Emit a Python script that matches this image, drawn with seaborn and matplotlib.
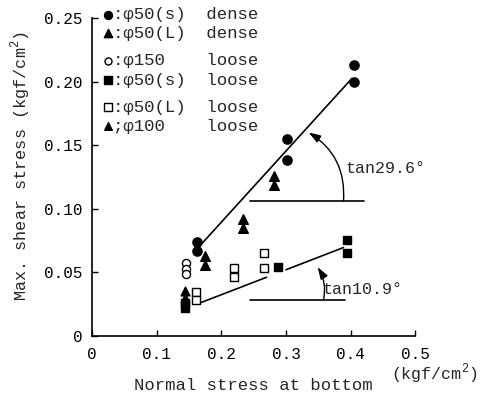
import numpy as np
import pandas as pd
import matplotlib
matplotlib.use("Agg")
import matplotlib.pyplot as plt
import seaborn as sns

# ---- data ----
dense_s_x = [0.162, 0.162, 0.301, 0.301, 0.406, 0.406]
dense_s_y = [0.074, 0.067, 0.1545, 0.138, 0.213, 0.200]

dense_L_x = [0.175, 0.175, 0.233, 0.233, 0.281, 0.281]
dense_L_y = [0.063, 0.0555, 0.0915, 0.0844, 0.1256, 0.1183]

loose_150_x = [0.146, 0.146, 0.146]
loose_150_y = [0.0571, 0.0528, 0.0484]

loose_s_x = [0.143, 0.143, 0.288, 0.395, 0.395]
loose_s_y = [0.026, 0.022, 0.0542, 0.0752, 0.0652]

loose_L_x = [0.160, 0.160, 0.220, 0.220, 0.266, 0.266]
loose_L_y = [0.034, 0.028, 0.0534, 0.0463, 0.0652, 0.0529]

loose_100_x = [0.143, 0.143]
loose_100_y = [0.035, 0.030]

dense_fit_x = [0.170, 0.402]
dense_fit_y = [0.0726, 0.2025]
loose_fit1_x = [0.165, 0.270]
loose_fit1_y = [0.0254, 0.0460]
loose_fit2_x = [0.300, 0.389]
loose_fit2_y = [0.0519, 0.0694]

ref_upper_x = [0.245, 0.420]
ref_upper_y = [0.106, 0.106]
ref_lower_x = [0.245, 0.392]
ref_lower_y = [0.028, 0.028]

legend_labels = [":φ50(s)  dense", ":φ50(L)  dense", ":φ150    loose",
                 ":φ50(s)  loose", ":φ50(L)  loose", ";φ100    loose"]

xticks = [0, 0.1, 0.2, 0.3, 0.4, 0.5]
xticklabels = ["0", "0.1", "0.2", "0.3", "0.4", "0.5"]
yticks = [0, 0.05, 0.10, 0.15, 0.20, 0.25]
yticklabels = ["0", "0.05", "0.10", "0.15", "0.20", "0.25"]

# ---- styling ----
sns.set_theme(style="ticks")
FONT = "Liberation Mono"
plt.rcParams["font.family"] = [FONT, "DejaVu Sans"]
plt.rcParams["mathtext.fontset"] = "custom"
plt.rcParams["mathtext.rm"] = FONT

fig = plt.figure(figsize=(4.8, 3.94), dpi=100)
ax = fig.add_axes([0.192, 0.148, 0.673, 0.806])

groups = [
    (dense_s_x, dense_s_y, "o", "black", 44),
    (dense_L_x, dense_L_y, "^", "black", 48),
    (loose_150_x, loose_150_y, "o", "white", 34),
    (loose_s_x, loose_s_y, "s", "black", 36),
    (loose_L_x, loose_L_y, "s", "white", 36),
    (loose_100_x, loose_100_y, "^", "black", 40),
]

lw = 1.2
for lx, ly in [(dense_fit_x, dense_fit_y), (loose_fit1_x, loose_fit1_y),
               (loose_fit2_x, loose_fit2_y), (ref_upper_x, ref_upper_y),
               (ref_lower_x, ref_lower_y)]:
    sns.lineplot(x=lx, y=ly, ax=ax, color="black", lw=lw, sort=False,
                 estimator=None, legend=False)

for gx, gy, m, fc, s in groups:
    sns.scatterplot(x=gx, y=gy, ax=ax, marker=m, s=s, facecolor=fc,
                    edgecolor="black", linewidth=1.0, zorder=3)

# hand-set legend (rows grouped in pairs as in the original)
leg_rows_y = [1.010, 0.953, 0.865, 0.805, 0.720, 0.660]
for (gx, gy, m, fc, s), lab, yy in zip(groups, legend_labels, leg_rows_y):
    ax.scatter([0.0495], [yy], marker=m, s=s * 0.75, facecolor=fc,
               edgecolor="black", linewidth=1.0, transform=ax.transAxes,
               clip_on=False, zorder=4)
    ax.text(0.064, yy, lab, transform=ax.transAxes, fontsize=12.5,
            ha="left", va="center")

# arcs with arrows
ax.annotate("", xy=(0.335, 0.160), xytext=(0.389, 0.106),
            arrowprops=dict(arrowstyle="-|>,head_length=0.6,head_width=0.2",
                            connectionstyle="arc3,rad=0.3", color="black",
                            lw=1.0, shrinkA=0, shrinkB=0))
ax.annotate("", xy=(0.349, 0.054), xytext=(0.358, 0.028),
            arrowprops=dict(arrowstyle="-|>,head_length=0.6,head_width=0.2",
                            connectionstyle="arc3,rad=0.2", color="black",
                            lw=1.0, shrinkA=0, shrinkB=0))

ax.text(0.392, 0.132, "tan29.6°", fontsize=12, va="center", ha="left")
ax.text(0.357, 0.036, "tan10.9°", fontsize=12, va="center", ha="left")

ax.set_xlim(0, 0.5)
ax.set_ylim(0, 0.25)
ax.set_xticks(xticks)
ax.set_xticklabels(xticklabels)
ax.set_yticks(yticks)
ax.set_yticklabels(yticklabels)
ax.tick_params(direction="in", length=4, width=1, labelsize=11.5, colors="black")
ax.tick_params(axis="x", pad=8)
ax.tick_params(axis="y", pad=7)
for sp in ["top", "right"]:
    ax.spines[sp].set_visible(False)
for sp in ["left", "bottom"]:
    ax.spines[sp].set_linewidth(1.2)
    ax.spines[sp].set_color("black")

ax.set_xlabel("Normal stress at bottom", fontsize=12.4, labelpad=12)
ax.set_ylabel("Max. shear stress (kgf/cm$^2$)", fontsize=12.2, labelpad=8)
ax.yaxis.label.set_y(0.534)
fig.text(0.905, 0.050, "(kgf/cm$^2$)", fontsize=12, ha="center", va="center")

fig.savefig("out.png", dpi=100)
